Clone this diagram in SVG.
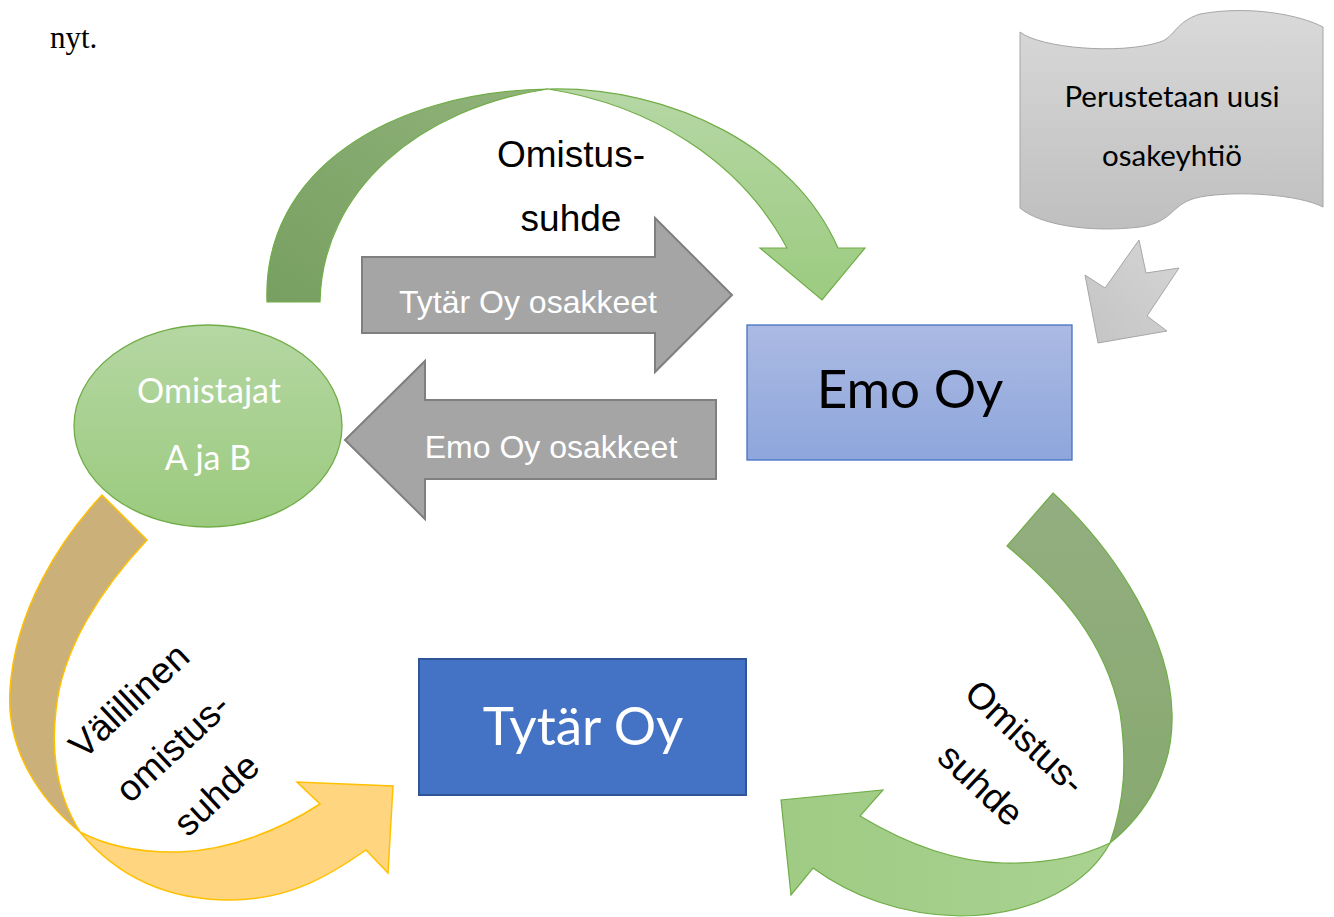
<svg xmlns="http://www.w3.org/2000/svg" width="1334" height="917" viewBox="0 0 1334 917">
<style>
.arial{font-family:"Liberation Sans",Arial,sans-serif}
.cal{font-family:Lato,"Noto Sans",sans-serif}
.gray{fill:#a5a5a5;stroke:#7f7f7f;stroke-width:2}
.lbl{font-size:37px;fill:#000}
.wlbl{font-size:32px;fill:#fff}
.grn{stroke:#70ad47;stroke-width:1.2}
.yel{stroke:#ffc000;stroke-width:1.5}
</style>
<defs>
<linearGradient id="gTopDark" x1="0" y1="1" x2="1" y2="0"><stop offset="0" stop-color="#789f62"/><stop offset="1" stop-color="#90b37a"/></linearGradient>
<linearGradient id="gTopLight" x1="0" y1="0" x2="0" y2="1"><stop offset="0" stop-color="#b6d7a5"/><stop offset="1" stop-color="#9ccb80"/></linearGradient>
<linearGradient id="gBrDark" x1="0" y1="0" x2="0" y2="1"><stop offset="0" stop-color="#93ae80"/><stop offset="1" stop-color="#87a96f"/></linearGradient>
<linearGradient id="gBrLight" x1="0" y1="0" x2="1" y2="0"><stop offset="0" stop-color="#9fcb84"/><stop offset="1" stop-color="#a9d291"/></linearGradient>
<linearGradient id="gEll" x1="0" y1="0" x2="0" y2="1"><stop offset="0" stop-color="#b5d7a3"/><stop offset="1" stop-color="#9bca7e"/></linearGradient>
<linearGradient id="gEmo" x1="0" y1="0" x2="0" y2="1"><stop offset="0" stop-color="#abbae3"/><stop offset="1" stop-color="#8ea6dc"/></linearGradient>
<linearGradient id="gScroll" x1="0" y1="0" x2="0" y2="1"><stop offset="0" stop-color="#d9d9d9"/><stop offset="1" stop-color="#bfbfbf"/></linearGradient>
<linearGradient id="gSmall" x1="1" y1="0" x2="0" y2="1"><stop offset="0" stop-color="#d5d5d5"/><stop offset="1" stop-color="#c4c4c4"/></linearGradient>
</defs>
<rect width="1334" height="917" fill="#fff"/>
<text x="50" y="48" style="font-family:'Liberation Serif','Times New Roman',serif;font-size:31px" fill="#000">nyt.</text>

<g id="connectors">
  <g id="arrow-top">
    <path d="M267,302 C262,170 390,92 548,89 C420,108 322,190 320,302 Z" fill="url(#gTopDark)" class="grn"/>
    <path d="M548,89 C675,86 795,150 838,248 L865,248 L822,300 L760,248 L787,248 C740,160 650,105 548,89 Z" fill="url(#gTopLight)" class="grn"/>
    <text class="arial lbl" x="571" y="167" text-anchor="middle">Omistus-</text>
    <text class="arial lbl" x="571" y="231" text-anchor="middle">suhde</text>
  </g>
  <g id="arrow-tytar-osakkeet">
    <path class="gray" d="M362,257 L655,257 L655,218 L732,295 L655,372 L655,333 L362,333 Z"/>
    <text class="arial wlbl" x="528" y="313" text-anchor="middle">Tytär Oy osakkeet</text>
  </g>
  <g id="arrow-emo-osakkeet">
    <path class="gray" d="M716,400 L425,400 L425,361 L345,440 L425,519 L425,479 L716,479 Z"/>
    <text class="arial wlbl" x="551" y="458" text-anchor="middle">Emo Oy osakkeet</text>
  </g>
  <g id="arrow-small">
    <polygon points="1139,240 1146,273 1179,268 1147,316 1167,331 1098,343 1085,275 1105,288" fill="url(#gSmall)" stroke="#a6a6a6" stroke-width="1"/>
  </g>
  <g id="arrow-bottom-right">
    <path d="M1053,493 C1120,555 1170,640 1172,713 C1174,770 1145,815 1110,843 C1125,800 1127,760 1120,713 C1105,640 1060,590 1007,546 Z" fill="url(#gBrDark)" class="grn"/>
    <path d="M1110,843 C1090,880 1040,915 960,916 C900,915 850,895 813,868 L791,895 L781,800 L883,790 L860,816 C900,840 950,862 1003,863 C1050,864 1085,855 1110,843 Z" fill="url(#gBrLight)" class="grn"/>
    <g transform="translate(1003,761) rotate(43)">
      <text class="arial lbl" x="0" y="-20" text-anchor="middle">Omistus-</text>
      <text class="arial lbl" x="0" y="45" text-anchor="middle">suhde</text>
    </g>
  </g>
  <g id="arrow-bottom-left">
    <path d="M102,495 C60,540 15,610 10,690 C6,750 40,800 80,832 C60,800 50,760 56,710 C62,650 100,590 147,540 Z" fill="#cbb179" class="yel"/>
    <path d="M80,832 C120,880 170,900 230,900 C290,900 330,875 366,850 L388,873 L393,786 L297,782 L320,804 C280,830 230,850 180,852 C140,853 105,845 80,832 Z" fill="#ffd57f" class="yel"/>
    <g transform="translate(173,748) rotate(-43)">
      <text class="arial lbl" x="0" y="-52" text-anchor="middle">Välillinen</text>
      <text class="arial lbl" x="0" y="12" text-anchor="middle">omistus-</text>
      <text class="arial lbl" x="0" y="76" text-anchor="middle">suhde</text>
    </g>
  </g>
</g>

<g id="node-omistajat">
  <ellipse cx="208" cy="426" rx="134" ry="101" fill="url(#gEll)" stroke="#70ad47" stroke-width="1.3"/>
  <text class="cal" x="209" y="403" font-size="34" fill="#fff" text-anchor="middle">Omistajat</text>
  <text class="cal" x="208" y="470" font-size="34" fill="#fff" text-anchor="middle">A ja B</text>
</g>

<g id="node-emo">
  <rect x="747" y="325" width="325" height="135" fill="url(#gEmo)" stroke="#4472c4" stroke-width="1.3"/>
  <text class="cal" x="910" y="408" font-size="53" fill="#000" text-anchor="middle">Emo Oy</text>
</g>

<g id="node-tytar">
  <rect x="419" y="659" width="327" height="136" fill="#4472c4" stroke="#2f5597" stroke-width="2"/>
  <text class="cal" x="583" y="745" font-size="53" fill="#fff" text-anchor="middle">Tytär Oy</text>
</g>

<g id="node-perustetaan">
  <path d="M1020,32 C1040,48 1120,55 1160,42 C1175,37 1175,22 1200,14 C1250,5 1300,15 1323,27 L1323,207 C1300,195 1240,190 1200,197 C1170,203 1175,222 1140,227 C1090,233 1040,225 1020,208 Z" fill="url(#gScroll)" stroke="#a6a6a6" stroke-width="1"/>
  <text class="cal" x="1172" y="107" font-size="29.5" fill="#000" text-anchor="middle">Perustetaan uusi</text>
  <text class="cal" x="1172" y="166" font-size="29.5" fill="#000" text-anchor="middle">osakeyhtiö</text>
</g>
</svg>
